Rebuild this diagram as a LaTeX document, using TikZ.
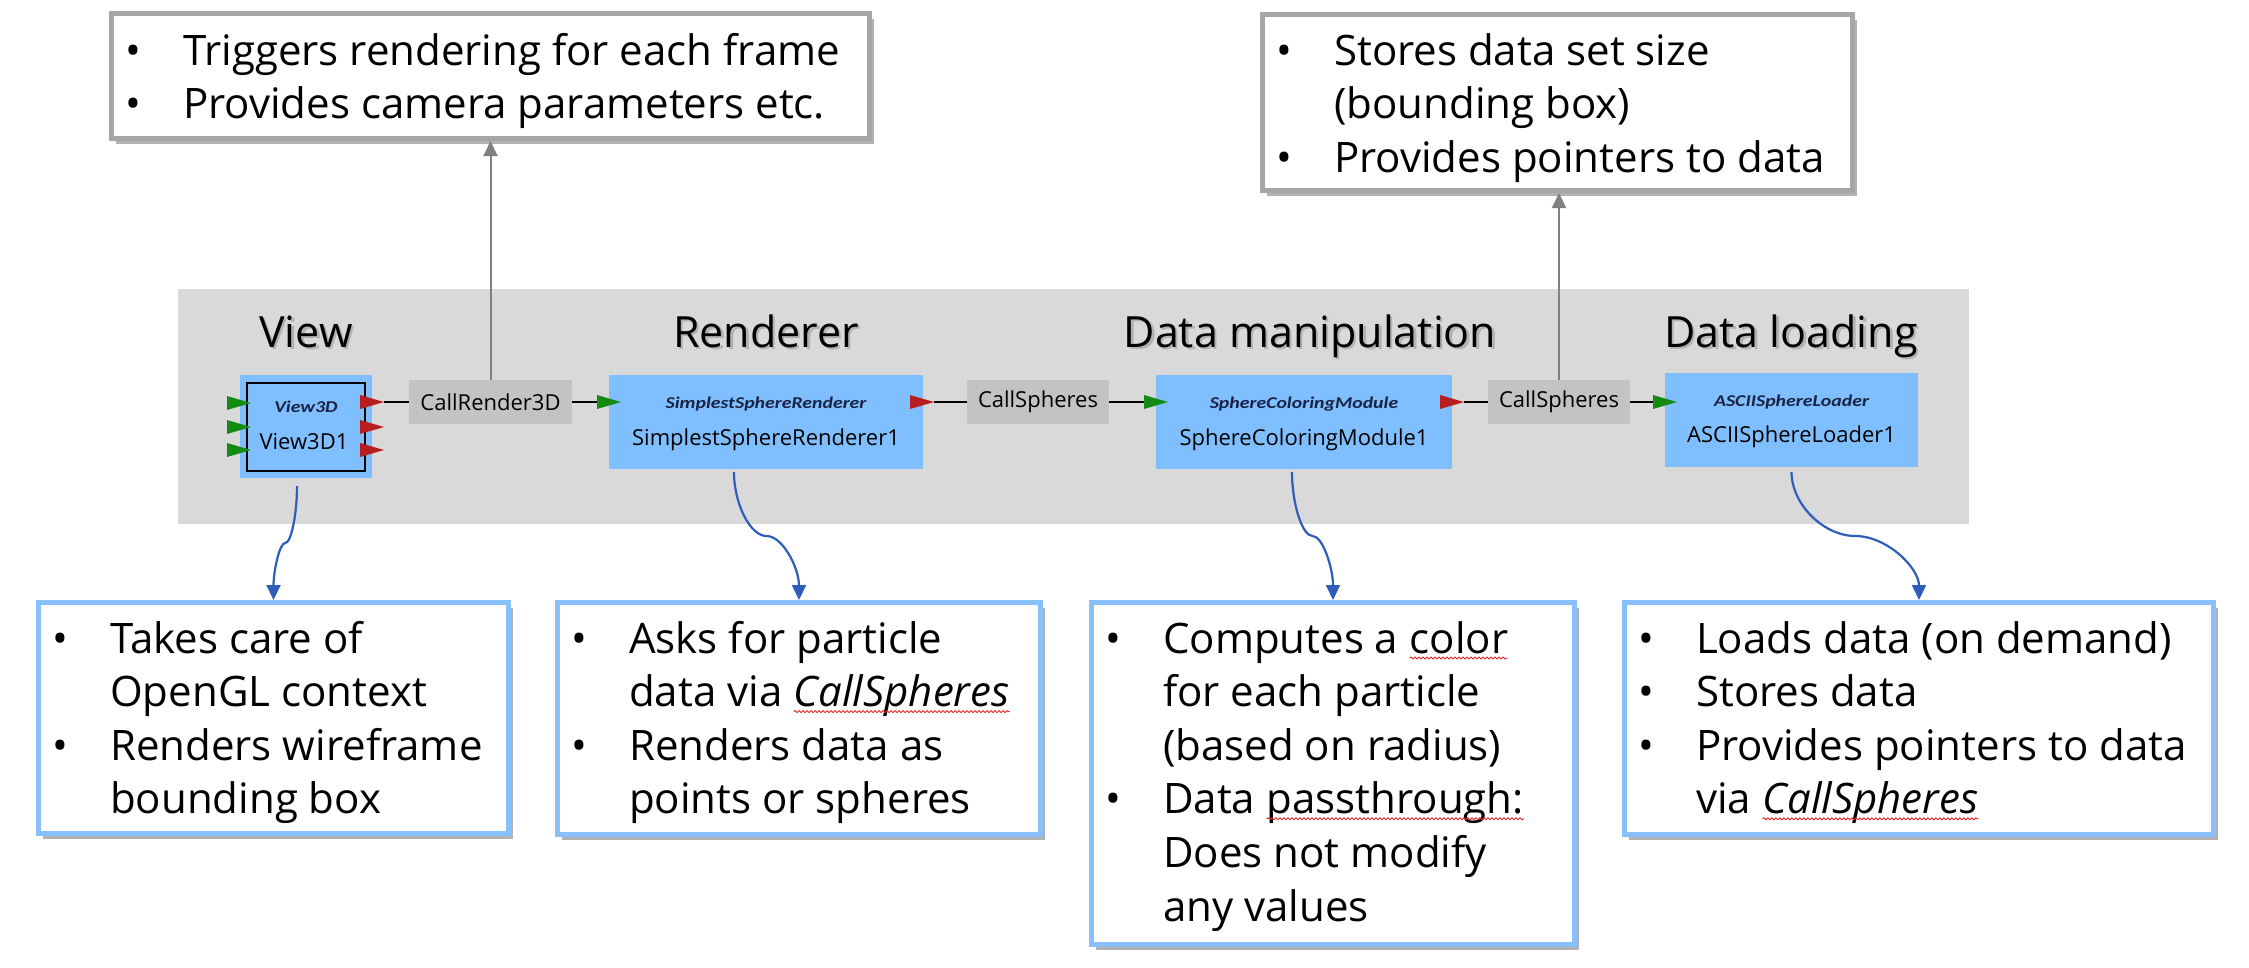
\documentclass[tikz,border=0pt]{standalone}
\usepackage{fontspec}
\setmainfont{Open Sans}
\newfontfamily\clsfont[FakeStretch=1.2]{Carlito}
\usetikzlibrary{arrows.meta,calc,shadows,decorations.pathmorphing}
\definecolor{bggray}{RGB}{217,217,217}
\definecolor{modblue}{RGB}{128,191,255}
\definecolor{callgray}{RGB}{195,195,195}
\definecolor{boxblue}{RGB}{135,192,250}
\definecolor{boxgray}{RGB}{166,166,166}
\definecolor{arrblue}{RGB}{47,94,186}
\definecolor{arrgray}{RGB}{128,128,128}
\definecolor{ingreen}{RGB}{20,140,20}
\definecolor{outred}{RGB}{185,30,30}
\definecolor{clsnavy}{RGB}{25,35,70}
\definecolor{wavered}{RGB}{230,40,40}
\tikzset{
  module/.style={fill=modblue, draw=none, inner sep=0pt, outer sep=0pt},
  call/.style={fill=callgray, draw=none, inner sep=0pt, outer sep=0pt, font=\fontsize{22}{26}\selectfont},
  cls/.style={font=\clsfont\bfseries\itshape\fontsize{16.5}{18}\selectfont, text=clsnavy, inner sep=0pt, anchor=base},
  modname/.style={font=\fontsize{22}{26}\selectfont, inner sep=0pt, anchor=base},
  heading/.style={font=\fontsize{43}{50}\selectfont, inner sep=0pt, anchor=base},
  infobox/.style={draw=boxblue, line width=5pt, fill=white, inner sep=0pt,
    drop shadow={shadow xshift=4pt, shadow yshift=-5pt, opacity=.3, fill=black}},
  notebox/.style={draw=boxgray, line width=5pt, fill=white, inner sep=0pt,
    drop shadow={shadow xshift=4pt, shadow yshift=-5pt, opacity=.3, fill=black}},
  bullets/.style={font=\fontsize{42}{53.6}\selectfont, inner sep=0pt, anchor=base west},
  link/.style={draw=black, line width=1.5pt},
  uparrow/.style={draw=arrgray, line width=2pt, -{Triangle[length=15pt,width=14pt]}},
  downarrow/.style={draw=arrblue, line width=2.2pt, -{Triangle[length=15pt,width=14pt]}},
  squiggle/.style={draw=wavered, line width=0.9pt, decorate,
    decoration={snake, amplitude=1pt, segment length=4pt}}
}
\newcommand\blist[1]{\begin{tabular}[t]{@{\hspace{16pt}}p{58pt}@{}l@{}}#1\end{tabular}}
\newcommand\sperr[1]{\tikz[baseline=(sw.base)]{\node[inner sep=0pt,outer sep=0pt] (sw) {#1};
  \draw[squiggle] ([yshift=-5pt]sw.base west) -- ([yshift=-5pt]sw.base east);}}
\newcommand\portfill[2]{\fill[#1] (#2) ++(0,-7) -- ++(24,7) -- ++(-24,7) -- cycle;}
\newcommand\sconn[2]{%
  \path ($(#1)!.25!(#2)$) coordinate (sq1) ($(#1)!.5!(#2)$) coordinate (sqm)
        ($(#1)!.75!(#2)$) coordinate (sq3);
  \draw[downarrow] (#1) .. controls (#1 |- sq1) and (sq1 |- sqm) .. (sqm)
        .. controls (sq3 |- sqm) and (#2 |- sq3) .. (#2);}
\begin{document}
\begin{tikzpicture}[x=1pt,y=-1pt]
\useasboundingbox (0,0) rectangle (2249,967);
\fill[white] (0,0) rectangle (2249,967);

% gray background band
\node[fill=bggray, minimum width=1791pt, minimum height=235pt, inner sep=0pt, outer sep=0pt] (bg) at (1073.5,406.5) {};

% headings with soft shadow
\foreach \x/\t/\n in {306/View/hv, 766/Renderer/hr, 1310/Data manipulation/hdm, 1791/Data loading/hdl}{
  \node[heading, text=black!45, opacity=.5] (\n s) at (\x+2.5,349.5) {\t};
  \node[heading] (\n) at (\x,347) {\t};
}

% modules
\node[module, minimum width=132pt, minimum height=103pt] (v3dbg) at (306,426.5) {};
\node[draw=black, line width=1.3pt, fill=modblue, minimum width=118pt, minimum height=88pt, inner sep=0pt, outer sep=0pt] (v3d) at (306,427) {};
\node[cls] (v3dc) at (306,412) {View3D};
\node[modname] (v3dn) at (304,449) {View3D1};

\node[call, minimum width=163pt, minimum height=44pt] (cr) at (490.5,402) {CallRender3D};

\node[module, minimum width=314pt, minimum height=94pt] (ssr) at (766,422) {};
\node[cls] (ssrc) at (766,408) {SimplestSphereRenderer};
\node[modname] (ssrn) at (766,445) {SimplestSphereRenderer1};

\node[call, minimum width=142pt, minimum height=44pt] (cs1) at (1038,402) {CallSpheres};

\node[module, minimum width=296pt, minimum height=94pt] (scm) at (1304,422) {};
\node[cls] (scmc) at (1304,408) {SphereColoringModule};
\node[modname] (scmn) at (1304,445) {SphereColoringModule1};

\node[call, minimum width=142pt, minimum height=44pt] (cs2) at (1559,402) {CallSpheres};

\node[module, minimum width=253pt, minimum height=94pt] (asl) at (1791.5,420) {};
\node[cls] (aslc) at (1791.5,406) {ASCIISphereLoader};
\node[modname] (asln) at (1791.5,442) {ASCIISphereLoader1};

% port coordinates (tails of the triangles)
\coordinate (v3din1) at ($(v3d.north west)+(-20,20)$);
\coordinate (v3din2) at ($(v3d.north west)+(-20,44)$);
\coordinate (v3din3) at ($(v3d.north west)+(-20,67)$);
\coordinate (v3dout1) at ($(v3d.north east)+(-5,19)$);
\coordinate (v3dout2) at ($(v3d.north east)+(-5,44)$);
\coordinate (v3dout3) at ($(v3d.north east)+(-5,67)$);
\coordinate (ssrin) at ($(ssr.west)+(-12,-20)$);
\coordinate (ssrout) at ($(ssr.east)+(-13,-20)$);
\coordinate (scmin) at ($(scm.west)+(-12,-20)$);
\coordinate (scmout) at ($(scm.east)+(-12,-20)$);
\coordinate (aslin) at ($(asl.west)+(-12,-18)$);

% links between modules and calls
\draw[link] ($(v3dout1)+(24,0)$) -- (cr.west);
\draw[link] (cr.east) -- (ssrin);
\draw[link] ($(ssrout)+(24,0)$) -- (cs1.west);
\draw[link] (cs1.east) -- (scmin);
\draw[link] ($(scmout)+(24,0)$) -- (cs2.west);
\draw[link] (cs2.east) -- (aslin);

% port triangles
\portfill{ingreen}{v3din1}\portfill{ingreen}{v3din2}\portfill{ingreen}{v3din3}
\portfill{outred}{v3dout1}\portfill{outred}{v3dout2}\portfill{outred}{v3dout3}
\portfill{ingreen}{ssrin}\portfill{outred}{ssrout}
\portfill{ingreen}{scmin}\portfill{outred}{scmout}
\portfill{ingreen}{aslin}

% top note boxes
\node[notebox, minimum width=758pt, minimum height=125pt] (tl) at (490.5,76) {};
\node[bullets] (tlt) at ($(tl.north west)+(0,54)$) {\blist{%
  \textbullet & Triggers rendering for each frame\\
  \textbullet & Provides camera parameters etc.}};
\node[notebox, minimum width=590pt, minimum height=176pt] (tr) at (1557.5,102.5) {};
\node[bullets] (trt) at ($(tr.north west)+(0,53)$) {\blist{%
  \textbullet & Stores data set size\\
   & (bounding box)\\
  \textbullet & Provides pointers to data}};

% bottom info boxes
\node[infobox, minimum width=470pt, minimum height=231pt] (b1) at (273.5,718) {};
\node[bullets] (b1t) at ($(b1.north west)+(0,53)$) {\blist{%
  \textbullet & Takes care of\\
   & OpenGL context\\
  \textbullet & Renders wireframe\\
   & bounding box}};
\node[infobox, minimum width=483pt, minimum height=232pt] (b2) at (799,718.5) {};
\node[bullets] (b2t) at ($(b2.north west)+(0,53)$) {\blist{%
  \textbullet & Asks for particle\\
   & data via \sperr{\itshape CallSpheres}\\
  \textbullet & Renders data as\\
   & points or spheres}};
\node[infobox, minimum width=483pt, minimum height=342pt] (b3) at (1333,773.5) {};
\node[bullets] (b3t) at ($(b3.north west)+(0,53)$) {\blist{%
  \textbullet & Computes a \sperr{color}\\
   & for each particle\\
   & (based on radius)\\
  \textbullet & Data \sperr{passthrough:}\\
   & Does not modify\\
   & any values}};
\node[infobox, minimum width=589pt, minimum height=232pt] (b4) at (1919,718.5) {};
\node[bullets] (b4t) at ($(b4.north west)+(0,53)$) {\blist{%
  \textbullet & Loads data (on demand)\\
  \textbullet & Stores data\\
  \textbullet & Provides pointers to data\\
   & via \sperr{\itshape CallSpheres}}};

% gray arrows up to the note boxes
\draw[uparrow] (cr.north) -- (cr.north |- tl.south);
\draw[uparrow] (cs2.north) -- (cs2.north |- tr.south);

% blue curved arrows down to the info boxes
\coordinate (a1s) at ($(v3dbg.south)+(-9,8)$);
\coordinate (a2s) at ($(ssr.south)+(-32,3)$);
\coordinate (a3s) at ($(scm.south)+(-12,3)$);
\coordinate (a4s) at ($(asl.south)+(0,5)$);
\sconn{a1s}{b1.north}
\sconn{a2s}{b2.north}
\sconn{a3s}{b3.north}
\sconn{a4s}{b4.north}
\end{tikzpicture}
\end{document}
